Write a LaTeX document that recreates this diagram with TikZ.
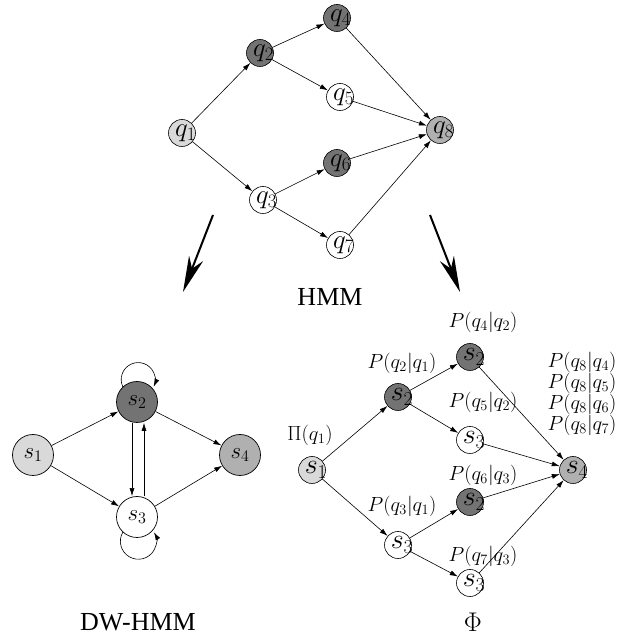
\RequirePackage{fix-cm}
\documentclass[tikz,border=0pt]{standalone}
\usepackage[no-math]{fontspec}
\setmainfont{Liberation Serif}
\usetikzlibrary{arrows.meta}
\definecolor{lgray}{gray}{0.85}
\definecolor{dgray}{gray}{0.45}
\definecolor{mgray}{gray}{0.69}
\newcommand\nlab[3]{\makebox[0pt]{\kern#1\raisebox{#2}{$#3$}}}
\tikzset{
  qn/.style={circle, draw, line width=0.6pt, inner sep=0pt, minimum size=27pt,
     font=\fontsize{27}{27}\selectfont},
  pn/.style={qn, font=\fontsize{28}{28}\selectfont},
  dn/.style={circle, draw, line width=0.7pt, inner sep=0pt, minimum size=41pt,
     font=\fontsize{23}{23}\selectfont},
  e/.style={line width=0.6pt, -{Latex[length=8pt,width=5pt]}},
  big/.style={line width=2pt, -{Stealth[length=36pt,width=15pt,inset=11pt]}},
  lab/.style={inner sep=0pt, font=\fontsize{20.5}{20.5}\selectfont},
  ttl/.style={inner sep=0pt, font=\fontsize{26}{26}\selectfont}
}
\begin{document}
\begin{tikzpicture}[x=1pt,y=1pt]
\useasboundingbox (0,0) rectangle (628,637);
% ---------- HMM (top) ----------
\node[qn, fill=lgray] (q1) at (182,504) {\nlab{7pt}{0pt}{q_1}};
\node[qn, fill=dgray] (q2) at (260,584) {\nlab{7pt}{0pt}{q_2}};
\node[qn, fill=dgray] (q4) at (337,619) {\nlab{7pt}{0pt}{q_4}};
\node[qn, fill=white] (q5) at (340,540) {\nlab{7pt}{0pt}{q_5}};
\node[qn, fill=dgray] (q6) at (337,474) {\nlab{7pt}{0pt}{q_6}};
\node[qn, fill=white] (q3) at (263,437) {\nlab{7pt}{0pt}{q_3}};
\node[qn, fill=white] (q7) at (340,392) {\nlab{7pt}{0pt}{q_7}};
\node[qn, fill=mgray] (q8) at (440,507) {\nlab{7pt}{0pt}{q_8}};
\draw[e] (q1) -- (q2);
\draw[e] (q1) -- (q3);
\draw[e] (q2) -- (q4);
\draw[e] (q2) -- (q5);
\draw[e] (q3) -- (q6);
\draw[e] (q3) -- (q7);
\draw[e] (q4) -- (q8);
\draw[e] (q5) -- (q8);
\draw[e] (q6) -- (q8);
\draw[e] (q7) -- (q8);
% big arrows
\coordinate (la) at (213,422);
\coordinate (lb) at (183,345);
\coordinate (ra) at (430,422);
\coordinate (rb) at (460,345);
\draw[big] (la) -- (lb);
\draw[big] (ra) -- (rb);
\node[ttl] (thmm) at (330,340) {HMM};
% ---------- DW-HMM ----------
\node[dn, fill=lgray] (d1) at (33,182) {$s_1$};
\node[dn, fill=dgray] (d2) at (137,235) {$s_2$};
\node[dn, fill=white] (d3) at (137,120) {$s_3$};
\node[dn, fill=mgray] (d4) at (240,182) {$s_4$};
\draw[e] (d1) -- (d2);
\draw[e] (d1) -- (d3);
\draw[e] (d2) -- (d4);
\draw[e] (d3) -- (d4);
\draw[e] ([xshift=-5pt]d2.south) -- ([xshift=-5pt]d3.north);
\draw[e] ([xshift=7pt]d3.north) -- ([xshift=7pt]d2.south);
\draw[e] (d2.133) arc[start angle=205, end angle=-25, radius=17];
\draw[e] (d3.227) arc[start angle=150, end angle=390, radius=18];
\node[ttl] (tdw) at (138,15) {DW-HMM};
% ---------- Phi ----------
\node[pn, fill=lgray] (p1) at (312,167) {\nlab{8pt}{-2pt}{s_1}};
\node[pn, fill=dgray] (p2) at (398,240) {\nlab{8pt}{-2pt}{s_2}};
\node[pn, fill=dgray] (p4) at (470,280) {\nlab{8pt}{-2pt}{s_2}};
\node[pn, fill=white] (p5) at (470,197) {\nlab{8pt}{-2pt}{s_3}};
\node[pn, fill=dgray] (p6) at (470,135) {\nlab{8pt}{-2pt}{s_2}};
\node[pn, fill=white] (p3) at (398,92) {\nlab{8pt}{-2pt}{s_3}};
\node[pn, fill=white] (p7) at (470,54) {\nlab{8pt}{-2pt}{s_3}};
\node[pn, fill=mgray] (p8) at (573,167) {\nlab{8pt}{-2pt}{s_4}};
\draw[e] (p1) -- (p2);
\draw[e] (p1) -- (p3);
\draw[e] (p2) -- (p4);
\draw[e] (p2) -- (p5);
\draw[e] (p3) -- (p6);
\draw[e] (p3) -- (p7);
\draw[e] (p4) -- (p8);
\draw[e] (p5) -- (p8);
\draw[e] (p6) -- (p8);
\draw[e] (p7) -- (p8);
\node[lab] (l1) at (310,202) {$\Pi(q_1)$};
\node[lab] (l21) at (402,274) {$P(q_2|q_1)$};
\node[lab] (l42) at (483,315) {$P(q_4|q_2)$};
\node[lab] (l52) at (483,235) {$P(q_5|q_2)$};
\node[lab] (l63) at (483,162) {$P(q_6|q_3)$};
\node[lab] (l31) at (402,131) {$P(q_3|q_1)$};
\node[lab] (l73) at (483,81) {$P(q_7|q_3)$};
\node[lab] (l84) at (582,275) {$P(q_8|q_4)$};
\node[lab] (l85) at (582,254) {$P(q_8|q_5)$};
\node[lab] (l86) at (582,233) {$P(q_8|q_6)$};
\node[lab] (l87) at (582,212) {$P(q_8|q_7)$};
\node[inner sep=0pt, font=\fontsize{27}{27}\selectfont] (tphi) at (473,15) {$\Phi$};
\end{tikzpicture}
\end{document}
